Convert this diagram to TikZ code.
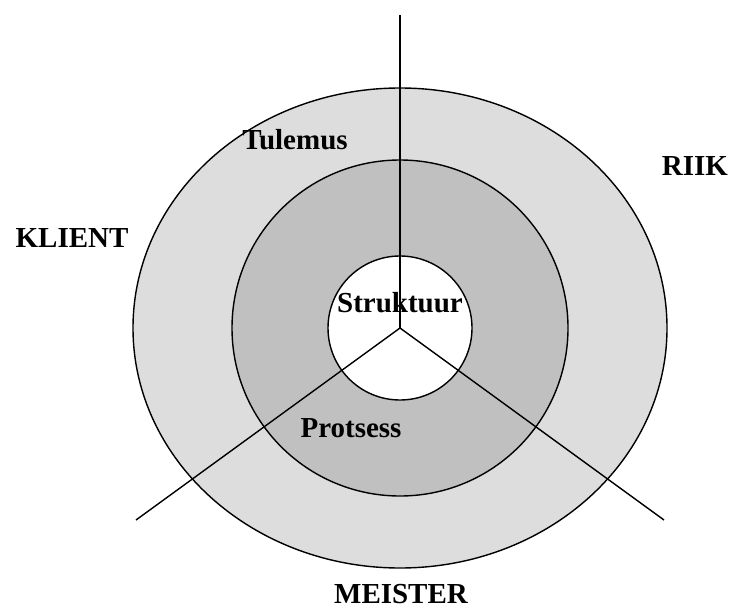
\documentclass[tikz,border=0pt]{standalone}
\usepackage{fontspec}
\setmainfont{Liberation Serif}
\usepackage{tikz}
\usetikzlibrary{positioning}
\definecolor{outergray}{HTML}{DDDDDD}
\definecolor{midgray}{HTML}{C0C0C0}
\begin{document}
\begin{tikzpicture}[x=0.02cm, y=-0.02cm,
  ring/.style={draw, line width=0.8pt},
  spoke/.style={line width=0.8pt},
  lbl/.style={font=\bfseries\fontsize{16.5}{18}\selectfont, inner sep=0pt, anchor=base}
]
\useasboundingbox (0,0) rectangle (733,608);
\coordinate (c) at (400,328);
\draw[ring, fill=outergray] (c) ellipse [x radius=267, y radius=240];
\draw[ring, fill=midgray] (c) circle [radius=168];
\draw[ring, fill=white] (c) circle [radius=72];
\coordinate (top) at (400,15);
\coordinate (lowleft) at (136,520);
\coordinate (lowright) at (664,520);
\draw[spoke] (c) -- (top);
\draw[spoke] (c) -- (lowleft);
\draw[spoke] (c) -- (lowright);
\node[lbl] (struktuur) at (400,312) {Struktuur};
\node[lbl] (tulemus) at (295,149) {Tulemus};
\node[lbl] (protsess) at (351,437) {Protsess};
\node[lbl] (klient) at (72,247) {KLIENT};
\node[lbl] (riik) at (695,175) {RIIK};
\node[lbl] (meister) at (401,603) {MEISTER};
\end{tikzpicture}
\end{document}
